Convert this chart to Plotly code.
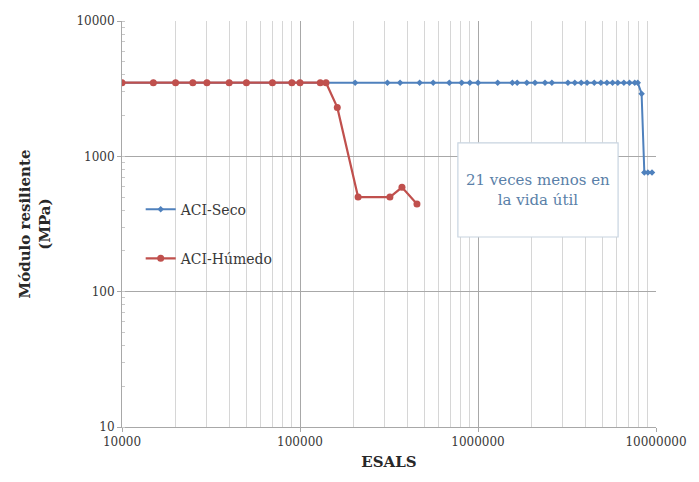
import plotly.graph_objects as go

# Data
seco_x = [10000, 15000, 20000, 25000, 30000, 40000, 50000, 70000, 90000, 100000,
          140000, 204000, 310000, 365000, 470000, 560000, 690000, 810000, 900000,
          1000000, 1290000, 1560000, 1660000, 1880000, 2090000, 2380000, 2600000,
          3200000, 3500000, 3800000, 4100000, 4500000, 4900000, 5300000, 5700000,
          6100000, 6600000, 7100000, 7600000, 7900000, 8300000, 8600000, 9000000, 9500000]
seco_y = [3500] * 40 + [2900, 760, 760, 760]

humedo_x = [10000, 15000, 20000, 25000, 30000, 40000, 50000, 70000, 90000, 100000,
            130000, 140000, 162000, 212000, 320000, 374000, 454000]
humedo_y = [3500, 3500, 3500, 3500, 3500, 3500, 3500, 3500, 3500, 3500,
            3500, 3500, 2300, 500, 500, 590, 445]

x_ticks = [10000, 100000, 1000000, 10000000]
x_ticklabels = ["10000", "100000", "1000000", "10000000"]
y_ticks = [10, 100, 1000, 10000]
y_ticklabels = ["10", "100", "1000", "10000"]

BLUE = "#4F81BD"
RED = "#C0504D"
SERIF = "DejaVu Serif"

fig = go.Figure()
fig.add_trace(go.Scatter(
    x=seco_x, y=seco_y, mode="lines+markers", name="ACI-Seco", legendgroup="a",
    line=dict(color=BLUE, width=2), marker=dict(symbol="diamond", size=5, color=BLUE)))
fig.add_trace(go.Scatter(
    x=humedo_x, y=humedo_y, mode="lines+markers", name="ACI-Húmedo", legendgroup="b",
    line=dict(color=RED, width=2.2), marker=dict(symbol="circle", size=7, color=RED)))

fig.update_layout(
    width=699, height=482,
    margin=dict(l=122, r=43, t=21, b=55),
    paper_bgcolor="white", plot_bgcolor="white",
    font=dict(family=SERIF, size=13, color="#383838"),
    legend=dict(x=0.035, y=0.575, xanchor="left", yanchor="top",
                bgcolor="rgba(0,0,0,0)", tracegroupgap=28, itemwidth=30,
                font=dict(family=SERIF, size=14, color="#383838")),
    showlegend=True,
)
fig.update_xaxes(
    type="log", range=[4, 7],
    tickvals=x_ticks, ticktext=x_ticklabels,
    tickfont=dict(family=SERIF, size=12, color="#383838"),
    showgrid=True, gridcolor="#a8a8a8", gridwidth=1,
    minor=dict(showgrid=True, gridcolor="#d6d6d6", ticks="", dtick="D1"),
    showline=True, linecolor="#a8a8a8", ticks="outside", ticklen=4, tickcolor="#a8a8a8",
    zeroline=False,
    title=dict(text="<b>ESALS</b>", font=dict(family=SERIF, size=15, color="#282828"), standoff=8),
)
fig.update_yaxes(
    type="log", range=[1, 4],
    tickvals=y_ticks, ticktext=y_ticklabels,
    tickfont=dict(family=SERIF, size=12, color="#383838"),
    showgrid=True, gridcolor="#a8a8a8", gridwidth=1,
    minor=dict(showgrid=False, ticks="inside", ticklen=3, tickcolor="#c8c8c8", dtick="D1"),
    showline=True, linecolor="#a8a8a8", ticks="outside", ticklen=4, tickcolor="#a8a8a8",
    zeroline=False,
    title=dict(text="<b>Módulo resiliente<br>(MPa)</b>",
               font=dict(family=SERIF, size=15, color="#282828"), standoff=22),
)

fig.add_shape(type="rect", xref="paper", yref="paper",
              x0=0.629, x1=0.929, y0=0.468, y1=0.700,
              line=dict(color="#c8d4e0", width=1.2), fillcolor="white", layer="above")
fig.add_annotation(xref="paper", yref="paper", x=0.779, y=0.583,
                   xanchor="center", yanchor="middle",
                   text="21 veces menos en<br>la vida útil", showarrow=False,
                   font=dict(family=SERIF, size=15, color="#5a7fa8"), align="center")

fig.write_html("out.html")
